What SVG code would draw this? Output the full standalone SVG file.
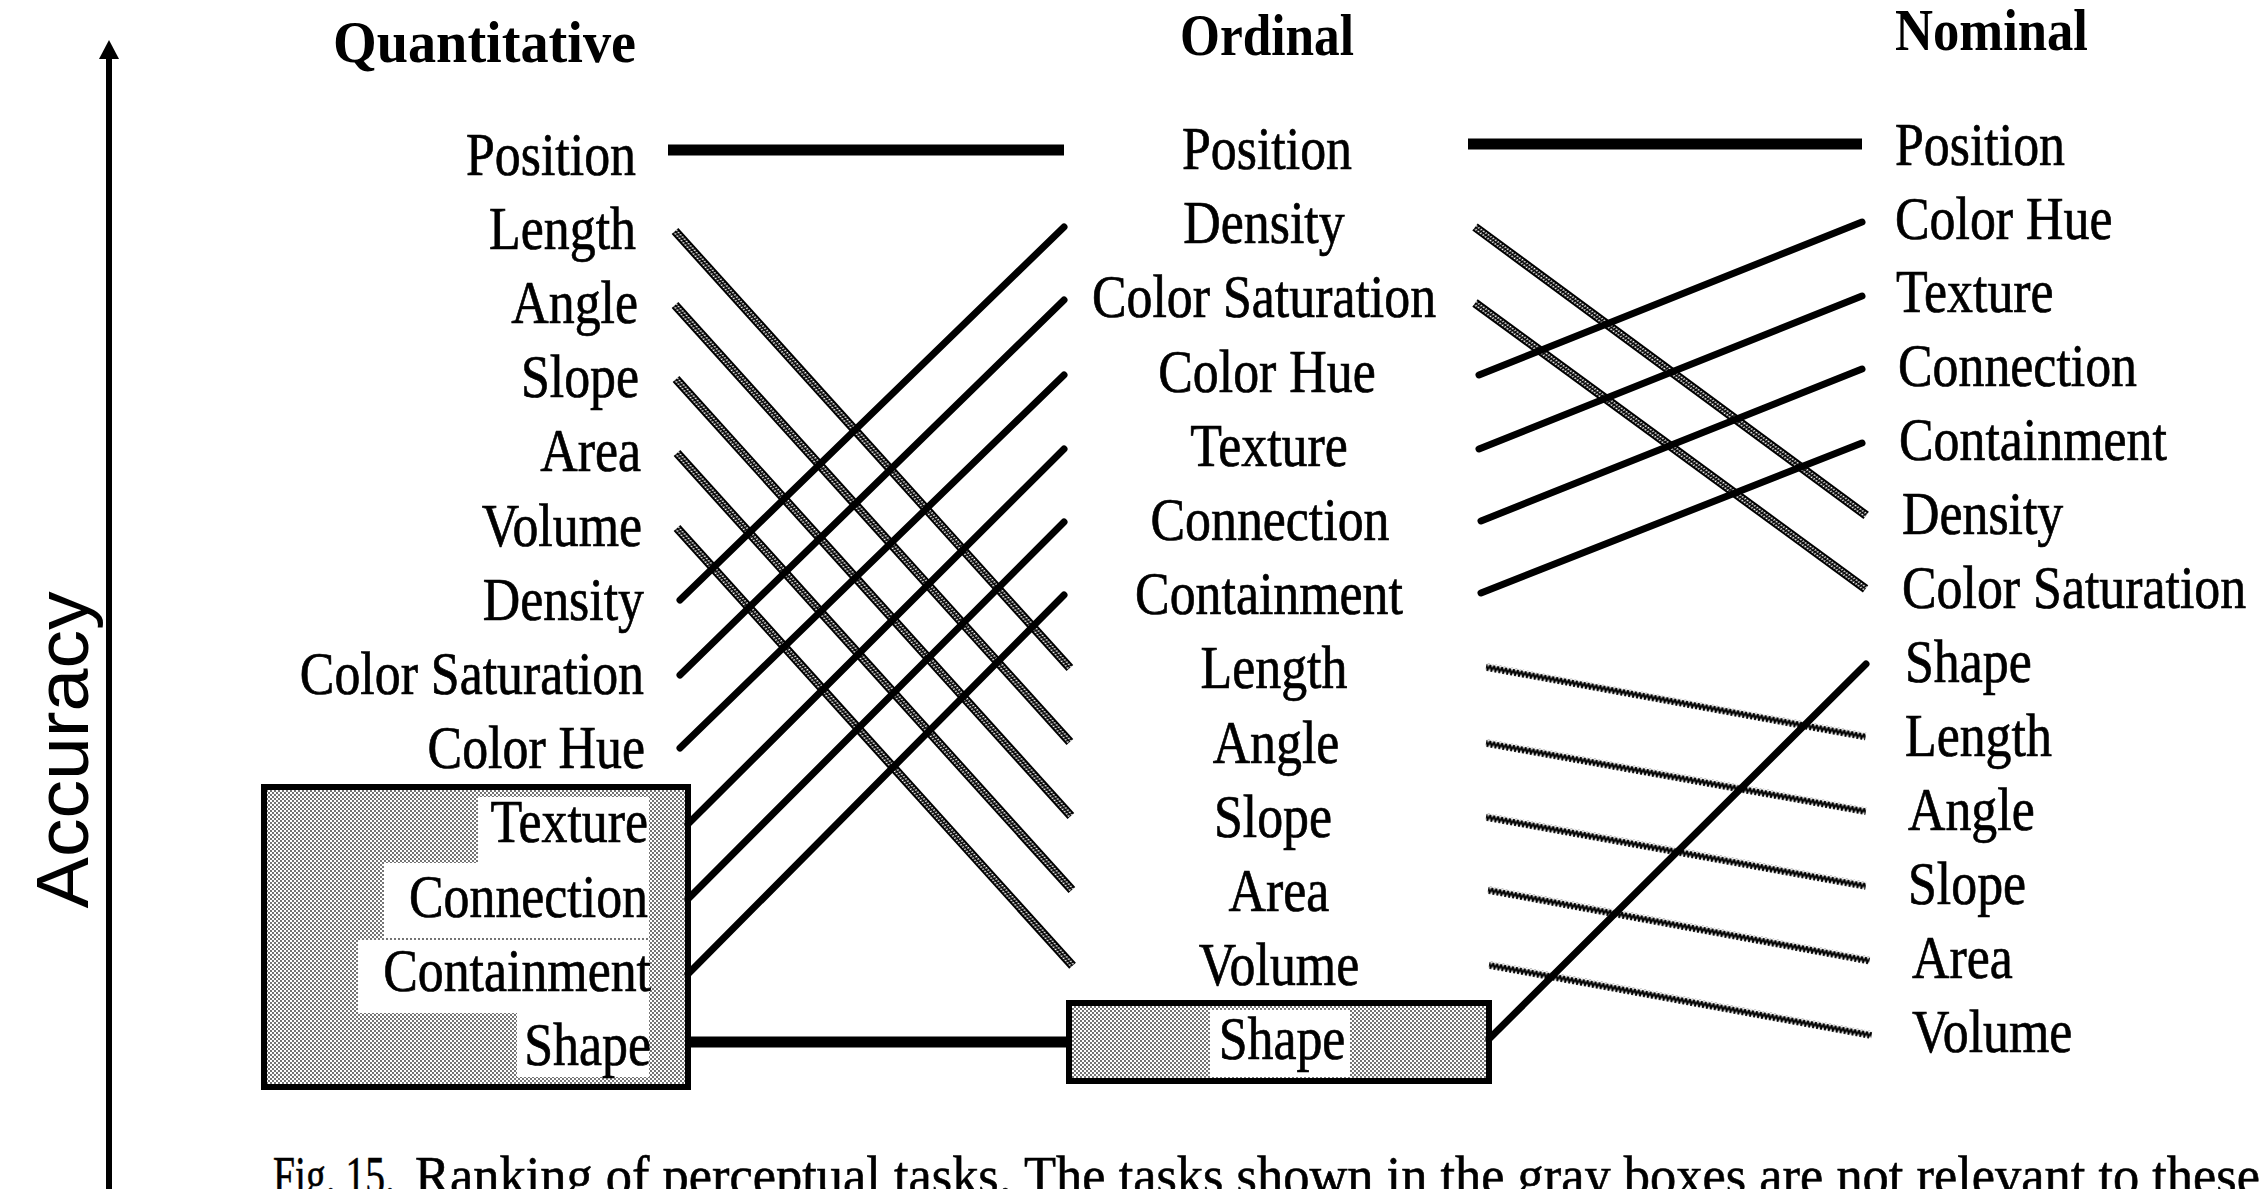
<svg xmlns="http://www.w3.org/2000/svg" width="2263" height="1189" viewBox="0 0 2263 1189">
<style>
.lbl{font-family:"Liberation Serif","Times New Roman",serif;font-size:61px;fill:#000;stroke:#000;stroke-width:0.7}
.q{text-anchor:end}.o{text-anchor:middle}.n{text-anchor:start}
.hdr{font-family:"Liberation Serif","Times New Roman",serif;font-size:60px;font-weight:bold;fill:#000}
.solid{stroke:#000;stroke-width:7;stroke-linecap:round;fill:none}
.thick{stroke:#000;stroke-width:11;fill:none}
.boxfill{fill:url(#stipple);stroke:none}
.boxline{fill:none;stroke:#000;stroke-width:6}
.clear{fill:#fff}
.cap{font-family:"Liberation Serif","Times New Roman",serif;font-size:55px;fill:#000;stroke:#000;stroke-width:0.6}
</style>
<defs>
<pattern id="stipple" width="4" height="4" patternUnits="userSpaceOnUse">
<rect width="4" height="4" fill="#fff"/>
<circle cx="1" cy="1" r="0.9" fill="#333"/>
<circle cx="3" cy="3" r="0.9" fill="#333"/>
</pattern>
<pattern id="hatch" width="3" height="9" y="-4.5" patternUnits="userSpaceOnUse">
<path d="M0,1 H3 M0,8 H3" stroke="#000" stroke-width="1.8"/>
<path d="M0,4.5 H3" stroke="#000" stroke-width="1.4"/>
<path d="M0,8.5 L3,0.5" stroke="#000" stroke-width="1.6"/>
</pattern>
<pattern id="zig" width="4" height="8" y="-4" patternUnits="userSpaceOnUse">
<polyline points="0,1.2 2,6.8 4,1.2" fill="none" stroke="#000" stroke-width="2"/>
</pattern>
<marker id="arrowhead" markerUnits="userSpaceOnUse" markerWidth="20" markerHeight="20" refX="9" refY="17" orient="0" viewBox="0 0 18 18">
<polygon points="9,0 0,17 18,17" fill="#000"/>
</marker>
</defs>
<rect width="2263" height="1189" fill="#fff"/>

<g id="axis">
<line x1="109" y1="1189" x2="109" y2="59" stroke="#000" stroke-width="6" marker-end="url(#arrowhead)"/>
<text transform="translate(88,750) rotate(-90)" text-anchor="middle" font-family="Liberation Sans, Arial, sans-serif" font-size="74" textLength="317" lengthAdjust="spacingAndGlyphs">Accuracy</text>
</g>

<g id="headers">
<text class="hdr" x="333" y="62" textLength="303" lengthAdjust="spacingAndGlyphs">Quantitative</text>
<text class="hdr" x="1180" y="55" textLength="174" lengthAdjust="spacingAndGlyphs">Ordinal</text>
<text class="hdr" x="1895" y="50" textLength="193" lengthAdjust="spacingAndGlyphs">Nominal</text>
</g>

<g id="q-gray-box">
<rect class="boxfill" x="264" y="787" width="424" height="300"/>
<rect class="clear" x="478" y="797" width="171" height="66"/>
<rect class="clear" x="384" y="863" width="265" height="75"/>
<rect class="clear" x="358" y="940" width="291" height="73"/>
<rect class="clear" x="517" y="1013" width="132" height="64"/>
<rect class="boxline" x="264" y="787" width="424" height="300"/>
</g>
<g id="o-gray-box">
<rect class="boxfill" x="1069" y="1003" width="420" height="78"/>
<rect class="clear" x="1210" y="1010" width="140" height="67"/>
<rect class="boxline" x="1069" y="1003" width="420" height="78"/>
</g>

<g id="connectors">
<line class="thick" x1="668" y1="150" x2="1064" y2="150"/>
<line class="thick" x1="1468" y1="144" x2="1862" y2="144"/>
<line class="thick" x1="688" y1="1042" x2="1069" y2="1042" stroke-width="10"/>
<g transform="translate(675,231) rotate(47.9)"><rect x="0" y="-4.5" width="589" height="9" fill="url(#hatch)"/></g>
<g transform="translate(675,305) rotate(47.9)"><rect x="0" y="-4.5" width="589" height="9" fill="url(#hatch)"/></g>
<g transform="translate(676,379) rotate(47.9)"><rect x="0" y="-4.5" width="589" height="9" fill="url(#hatch)"/></g>
<g transform="translate(677,453) rotate(47.9)"><rect x="0" y="-4.5" width="589" height="9" fill="url(#hatch)"/></g>
<g transform="translate(677,528) rotate(47.9)"><rect x="0" y="-4.5" width="590" height="9" fill="url(#hatch)"/></g>
<line class="solid" x1="680" y1="600" x2="1064" y2="227"/>
<line class="solid" x1="680" y1="675" x2="1064" y2="300"/>
<line class="solid" x1="680" y1="748" x2="1064" y2="375"/>
<line class="solid" x1="688" y1="824" x2="1064" y2="449"/>
<line class="solid" x1="688" y1="899" x2="1064" y2="522"/>
<line class="solid" x1="688" y1="974" x2="1064" y2="595"/>
<g transform="translate(1475,227) rotate(36.4)"><rect x="0" y="-4.5" width="486" height="9" fill="url(#hatch)"/></g>
<g transform="translate(1475,303) rotate(36.2)"><rect x="0" y="-4.5" width="484" height="9" fill="url(#hatch)"/></g>
<line class="solid" x1="1479" y1="375" x2="1862" y2="222"/>
<line class="solid" x1="1479" y1="449" x2="1862" y2="296"/>
<line class="solid" x1="1481" y1="521" x2="1862" y2="369"/>
<line class="solid" x1="1481" y1="593" x2="1862" y2="443"/>
<g transform="translate(1486,667) rotate(10.4)"><rect x="0" y="-4" width="386" height="8" fill="url(#zig)"/></g>
<g transform="translate(1486,743) rotate(10.2)"><rect x="0" y="-4" width="386" height="8" fill="url(#zig)"/></g>
<g transform="translate(1486,817) rotate(10.3)"><rect x="0" y="-4" width="386" height="8" fill="url(#zig)"/></g>
<g transform="translate(1488,890) rotate(10.5)"><rect x="0" y="-4" width="388" height="8" fill="url(#zig)"/></g>
<g transform="translate(1489,965) rotate(10.4)"><rect x="0" y="-4" width="389" height="8" fill="url(#zig)"/></g>
<line class="solid" x1="1489" y1="1039" x2="1866" y2="664"/>
</g>

<g id="q-position"><text class="lbl q" transform="translate(636,174.6) scale(0.85,1)">Position</text></g>
<g id="q-length"><text class="lbl q" transform="translate(636,248.8) scale(0.85,1)">Length</text></g>
<g id="q-angle"><text class="lbl q" transform="translate(638,323) scale(0.85,1)">Angle</text></g>
<g id="q-slope"><text class="lbl q" transform="translate(639,397.2) scale(0.85,1)">Slope</text></g>
<g id="q-area"><text class="lbl q" transform="translate(641,471.4) scale(0.85,1)">Area</text></g>
<g id="q-volume"><text class="lbl q" transform="translate(642,545.6) scale(0.85,1)">Volume</text></g>
<g id="q-density"><text class="lbl q" transform="translate(644,619.8) scale(0.85,1)">Density</text></g>
<g id="q-color-saturation"><text class="lbl q" transform="translate(644,694) scale(0.85,1)">Color Saturation</text></g>
<g id="q-color-hue"><text class="lbl q" transform="translate(645,768.2) scale(0.85,1)">Color Hue</text></g>
<g id="q-texture"><text class="lbl q" transform="translate(648,842.4) scale(0.85,1)">Texture</text></g>
<g id="q-connection"><text class="lbl q" transform="translate(648,916.6) scale(0.85,1)">Connection</text></g>
<g id="q-containment"><text class="lbl q" transform="translate(651,990.8) scale(0.85,1)">Containment</text></g>
<g id="q-shape"><text class="lbl q" transform="translate(651,1065) scale(0.85,1)">Shape</text></g>

<g id="o-position"><text class="lbl o" transform="translate(1267,168.9) scale(0.85,1)">Position</text></g>
<g id="o-density"><text class="lbl o" transform="translate(1264,243.1) scale(0.85,1)">Density</text></g>
<g id="o-color-saturation"><text class="lbl o" transform="translate(1264,317.3) scale(0.85,1)">Color Saturation</text></g>
<g id="o-color-hue"><text class="lbl o" transform="translate(1267,391.5) scale(0.85,1)">Color Hue</text></g>
<g id="o-texture"><text class="lbl o" transform="translate(1269,465.7) scale(0.85,1)">Texture</text></g>
<g id="o-connection"><text class="lbl o" transform="translate(1270,539.9) scale(0.85,1)">Connection</text></g>
<g id="o-containment"><text class="lbl o" transform="translate(1269,614.1) scale(0.85,1)">Containment</text></g>
<g id="o-length"><text class="lbl o" transform="translate(1274,688.3) scale(0.85,1)">Length</text></g>
<g id="o-angle"><text class="lbl o" transform="translate(1276,762.5) scale(0.85,1)">Angle</text></g>
<g id="o-slope"><text class="lbl o" transform="translate(1273,836.7) scale(0.85,1)">Slope</text></g>
<g id="o-area"><text class="lbl o" transform="translate(1279,910.9) scale(0.85,1)">Area</text></g>
<g id="o-volume"><text class="lbl o" transform="translate(1279,985.1) scale(0.85,1)">Volume</text></g>
<g id="o-shape"><text class="lbl o" transform="translate(1282,1059.3) scale(0.85,1)">Shape</text></g>

<g id="n-position"><text class="lbl n" transform="translate(1895,164.5) scale(0.85,1)">Position</text></g>
<g id="n-color-hue"><text class="lbl n" transform="translate(1895,238.5) scale(0.85,1)">Color Hue</text></g>
<g id="n-texture"><text class="lbl n" transform="translate(1896,312.4) scale(0.85,1)">Texture</text></g>
<g id="n-connection"><text class="lbl n" transform="translate(1898,386.4) scale(0.85,1)">Connection</text></g>
<g id="n-containment"><text class="lbl n" transform="translate(1899,460.3) scale(0.85,1)">Containment</text></g>
<g id="n-density"><text class="lbl n" transform="translate(1902,534.3) scale(0.85,1)">Density</text></g>
<g id="n-color-saturation"><text class="lbl n" transform="translate(1902,608.3) scale(0.85,1)">Color Saturation</text></g>
<g id="n-shape"><text class="lbl n" transform="translate(1905,682.2) scale(0.85,1)">Shape</text></g>
<g id="n-length"><text class="lbl n" transform="translate(1905,756.2) scale(0.85,1)">Length</text></g>
<g id="n-angle"><text class="lbl n" transform="translate(1908,830.1) scale(0.85,1)">Angle</text></g>
<g id="n-slope"><text class="lbl n" transform="translate(1908,904.1) scale(0.85,1)">Slope</text></g>
<g id="n-area"><text class="lbl n" transform="translate(1912,978.1) scale(0.85,1)">Area</text></g>
<g id="n-volume"><text class="lbl n" transform="translate(1912,1052) scale(0.85,1)">Volume</text></g>

<g id="caption">
<text class="cap" y="1194"><tspan x="273" textLength="122" lengthAdjust="spacingAndGlyphs">Fig. 15.</tspan><tspan x="415" textLength="1845" lengthAdjust="spacingAndGlyphs">Ranking of perceptual tasks. The tasks shown in the gray boxes are not relevant to these</tspan></text>
</g>
</svg>
